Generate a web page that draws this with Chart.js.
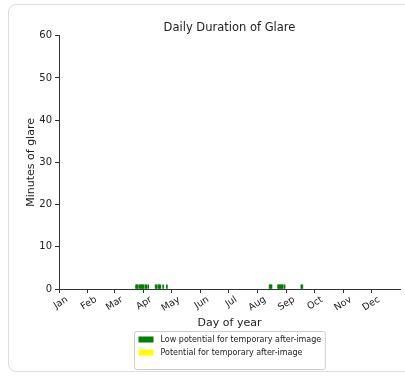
<!DOCTYPE html>
<html>
<head>
<meta charset="utf-8">
<script src="https://cdn.jsdelivr.net/npm/chart.js@4/dist/chart.umd.min.js"></script>
<style>
  body { margin: 0; background: #fff; }
  .card {
    position: absolute; left: 8px; top: 4px; width: 420px; height: 366px;
    border: 1.5px solid #dedede; border-radius: 8px;
  }
  #glareChart { position: absolute; left: 0; top: 0; }
</style>
</head>
<body>
<div class="card"></div>
<canvas id="glareChart" width="405" height="377"></canvas>
<script>
// day of year values
const monthStarts = [0, 31, 59, 90, 120, 151, 181, 212, 243, 273, 304, 334];
const monthLabels = ["Jan", "Feb", "Mar", "Apr", "May", "Jun", "Jul", "Aug", "Sep", "Oct", "Nov", "Dec"];
const yTicks = [0, 10, 20, 30, 40, 50, 60];

const lowDays = [83, 84, 85, 87, 88, 89, 90, 91, 93, 94, 96, 104, 105, 107, 108, 109, 112, 116,
  226, 227, 228, 235, 236, 237, 238, 239, 240, 242, 260, 261];
const lowMinutes = [1, 1, 1, 1, 1, 1, 1, 1, 1, 1, 1, 1, 1, 1, 1, 1, 1, 1,
  1, 1, 1, 1, 1, 1, 1, 1, 1, 1, 1, 1];
const potentialDays = [];
const potentialMinutes = [];

const seriesNames = ["Low potential for temporary after-image", "Potential for temporary after-image"];
const seriesColors = ["green", "yellow"];

const FONT = "'DejaVu Sans', sans-serif";

// boxed legend under the x axis title
const boxLegend = {
  id: "boxLegend",
  afterDraw(chart) {
    const ctx = chart.ctx;
    const area = chart.chartArea;
    const xScale = chart.scales.x;
    ctx.save();
    ctx.font = "8px " + FONT;
    let textW = 0;
    chart.data.datasets.forEach((ds) => {
      textW = Math.max(textW, ctx.measureText(ds.label).width);
    });
    const boxW = textW + 30;
    const boxH = 38;
    const cx = (area.left + area.right) / 2;
    const x0 = Math.round(cx - boxW / 2) + 0.5;
    const y0 = Math.round(xScale.bottom) + 1.5;
    ctx.fillStyle = "#fff";
    ctx.strokeStyle = "#cccccc";
    ctx.lineWidth = 1;
    ctx.beginPath();
    ctx.roundRect(x0, y0, boxW, boxH, 2);
    ctx.fill();
    ctx.stroke();
    chart.data.datasets.forEach((ds, i) => {
      const ly = y0 + 8 + i * 13;
      ctx.fillStyle = ds.backgroundColor;
      ctx.fillRect(x0 + 4, ly - 3, 15, 6);
      ctx.fillStyle = "#222";
      ctx.textBaseline = "middle";
      ctx.fillText(ds.label, x0 + 26, ly);
    });
    ctx.restore();
  },
};

new Chart("glareChart", {
  type: "bar",
  data: {
    datasets: [
      {
        label: seriesNames[0],
        data: lowDays.map((d, i) => ({ x: d, y: lowMinutes[i] })),
        backgroundColor: seriesColors[0],
        barThickness: 1,
      },
      {
        label: seriesNames[1],
        data: potentialDays.map((d, i) => ({ x: d, y: potentialMinutes[i] })),
        backgroundColor: seriesColors[1],
        barThickness: 1,
      },
    ],
  },
  options: {
    responsive: false,
    animation: false,
    layout: { padding: { left: 0, right: 5, top: 0, bottom: 47 } },
    plugins: {
      legend: { display: false },
      tooltip: { enabled: false },
      title: {
        display: true,
        fullSize: false,
        text: "Daily Duration of Glare",
        color: "#222",
        font: { family: FONT, size: 11.5, weight: "normal" },
        padding: { top: 21, bottom: 1 },
      },
    },
    scales: {
      x: {
        type: "linear",
        min: 0,
        max: 365,
        offset: false,
        grid: { offset: false, drawOnChartArea: false, drawTicks: true, tickLength: 4, color: "#333" },
        border: { display: true, color: "#333" },
        afterBuildTicks: (scale) => {
          scale.ticks = monthStarts.map((v) => ({ value: v }));
        },
        afterFit: (scale) => { scale.height = 41; },
        ticks: {
          autoSkip: false,
          minRotation: 32,
          maxRotation: 32,
          labelOffset: 8,
          padding: 1,
          color: "#222",
          font: { family: FONT, size: 9.5 },
          callback: (v) => monthLabels[monthStarts.indexOf(v)],
        },
        title: {
          display: true,
          text: "Day of year",
          color: "#222",
          font: { family: FONT, size: 11 },
          padding: { top: 0, bottom: 0.4 },
        },
      },
      y: {
        min: 0,
        max: 60,
        grid: { drawOnChartArea: false, drawTicks: true, tickLength: 4, color: "#333" },
        border: { display: true, color: "#333" },
        afterBuildTicks: (scale) => {
          scale.ticks = yTicks.map((v) => ({ value: v }));
        },
        afterFit: (scale) => { scale.width = 59; },
        ticks: {
          padding: 3,
          color: "#222",
          font: { family: FONT, size: 10 },
        },
        title: {
          display: true,
          text: "Minutes of glare",
          color: "#222",
          font: { family: FONT, size: 11 },
          padding: { top: 24.4, bottom: 0 },
        },
      },
    },
  },
  plugins: [boxLegend],
});
</script>
</body>
</html>
